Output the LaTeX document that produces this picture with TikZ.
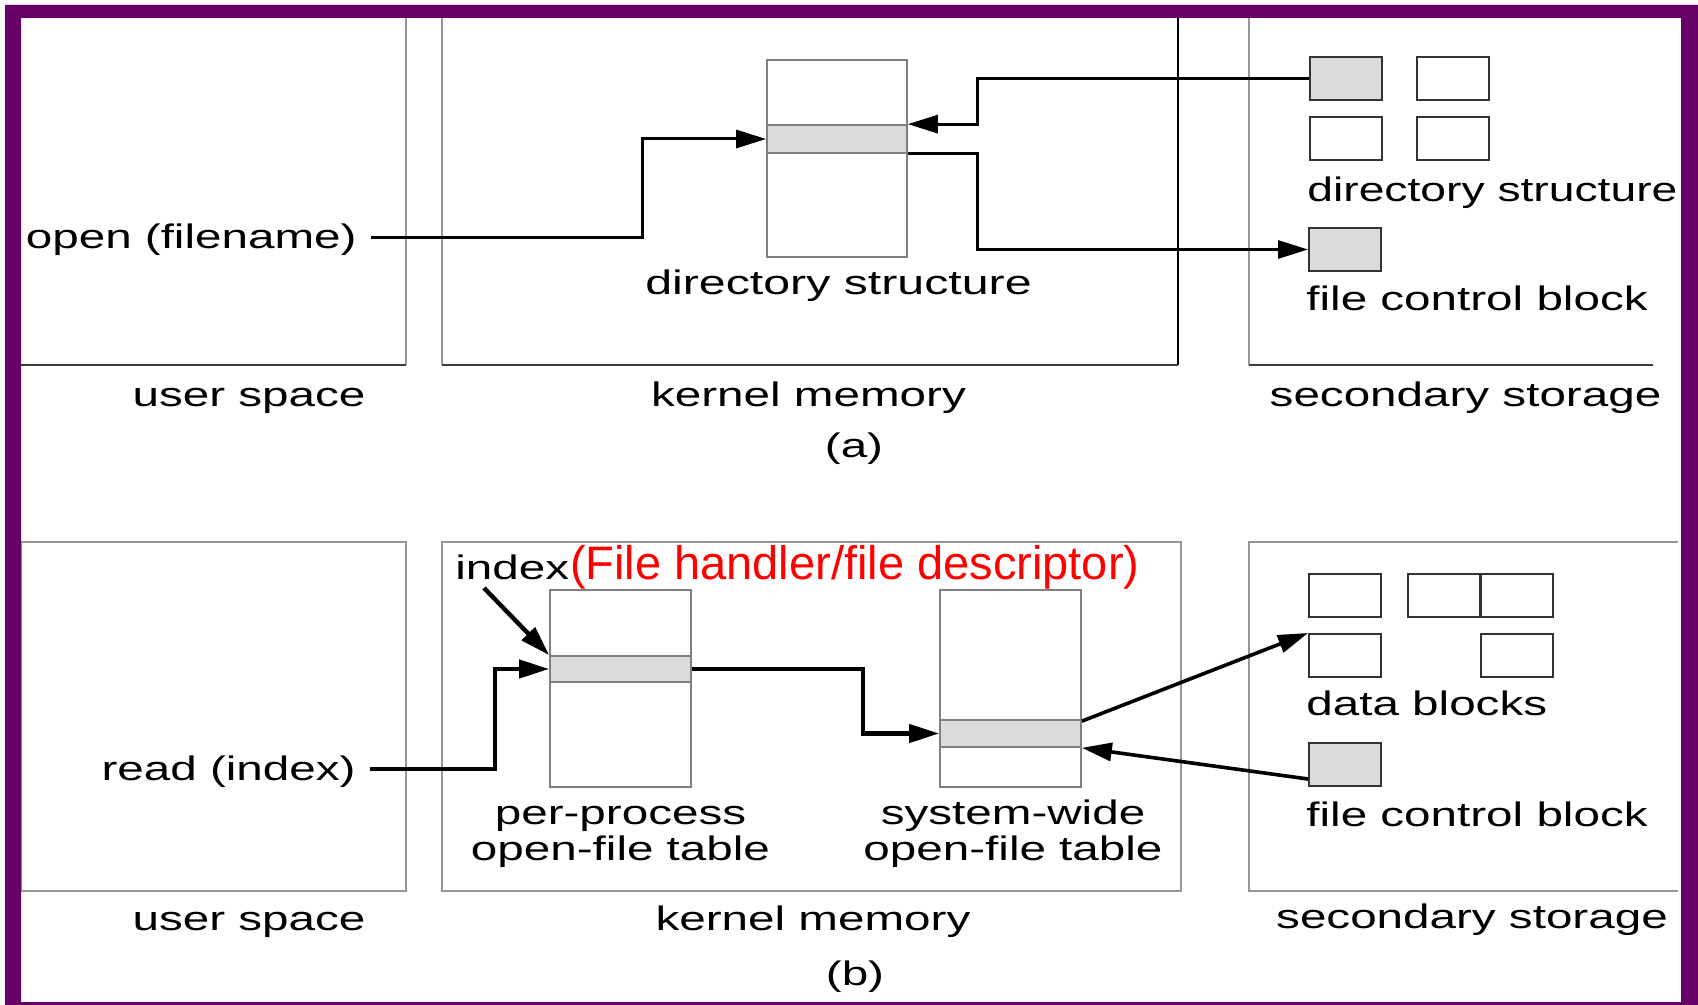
\documentclass[tikz,border=0pt]{standalone}
\usepackage{fontspec}
\setmainfont{Liberation Sans}
\newfontfamily\widefont[FakeStretch=1.4]{Liberation Sans}
\newfontfamily\widerfont[FakeStretch=1.42]{Liberation Sans}
\newfontfamily\tightfont[FakeStretch=1.36]{Liberation Sans}
\usetikzlibrary{arrows.meta,calc}

\definecolor{framepurple}{RGB}{102,0,102}
\definecolor{bandfill}{RGB}{220,218,221}
\definecolor{tableline}{RGB}{128,128,128}
\definecolor{arealine}{RGB}{150,150,150}
\definecolor{areadark}{RGB}{60,60,60}

\tikzset{
  lbl/.style={font=\widefont\fontsize{17pt}{20pt}\selectfont, inner sep=0pt, text=black},
  lblwide/.style={lbl, font=\widerfont\fontsize{17pt}{20pt}\selectfont},
  lbltight/.style={lbl, font=\tightfont\fontsize{17pt}{20pt}\selectfont},
  note/.style={font=\fontsize{23.5pt}{28pt}\selectfont, inner sep=0pt, text=red},
  tbl/.style={draw=tableline, line width=0.85pt, fill=white, minimum width=70.5pt,
              minimum height=98.5pt, inner sep=0pt},
  band/.style={draw=tableline, line width=0.85pt, fill=bandfill, minimum width=70.5pt, inner sep=0pt},
  blk/.style={draw=black!80, line width=1pt, minimum width=36pt, minimum height=21.5pt, inner sep=0pt},
  blkon/.style={blk, fill=bandfill},
  connA/.style={line width=1.5pt, -{Triangle[length=15pt,width=9pt]}},
  connB/.style={line width=2.2pt, -{Triangle[length=15pt,width=9pt]}},
  areaV/.style={draw=arealine, line width=0.8pt},
  areaH/.style={draw=areadark, line width=0.8pt},
}

\begin{document}
\begin{tikzpicture}[x=0.5pt,y=-0.5pt]
\useasboundingbox (0,0) rectangle (1698,1005);
\fill[white] (0,0) rectangle (1698,1005);

% ---------- (a) open(): memory areas ----------
\draw[areaV] (406,18) -- (406,365);
\draw[areaH] (21,365) -- (406,365);
\draw[areaV] (442,18) -- (442,365);
\draw[areaH] (442,365) -- (1178,365);
\draw[black, line width=0.9pt] (1178,18) -- (1178,365);
\draw[areaV] (1249,18) -- (1249,365);
\draw[areaH] (1249,365) -- (1653,365);

% ---------- (b) read(): memory areas ----------
\draw[areaV] (21,542) rectangle (406,891);
\draw[areaV] (442,542) rectangle (1181,891);
\draw[areaV] (1678,542) -- (1249,542) -- (1249,891) -- (1678,891);

% ---------- in-memory tables ----------
\node[tbl, minimum width=70pt] (dirA) at (837,158.5) {};
\node[band, minimum width=70pt, minimum height=14pt] (bandA) at (837,139) {};
\node[tbl] (ppt) at (620.5,688.5) {};
\node[band, minimum height=13pt] (bandP) at (620.5,669) {};
\node[tbl] (swt) at (1010.5,688.5) {};
\node[band, minimum height=13.5pt] (bandS) at (1010.5,733.5) {};

% ---------- disk blocks (a) ----------
\node[blkon] (dA1) at (1345.5,79) {};
\node[blk] (dA2) at (1452.5,79) {};
\node[blk] (dA3) at (1345.5,138.5) {};
\node[blk] (dA4) at (1452.5,138.5) {};
\node[blkon] (fcbA) at (1345,249.5) {};

% ---------- disk blocks (b) ----------
\node[blk] (db1) at (1345,595) {};
\node[blk] (db2) at (1443.5,595) {};
\node[blk] (db3) at (1516.5,595) {};
\node[blk] (db4) at (1345,655.5) {};
\node[blk] (db5) at (1516.5,655.5) {};
\node[blkon] (fcbB) at (1345,764.5) {};

% ---------- labels (a) ----------
\node[lbl, anchor=base] (usA) at (249,407) {user space};
\node[lbl, anchor=base] (kmA) at (808.5,407) {kernel memory};
\node[lbl, anchor=base] (ssA) at (1465.5,407) {secondary storage};
\node[lbl, anchor=base] (capA) at (854,458) {(a)};
\node[lblwide, anchor=base] (dsA) at (838.5,295) {directory structure};
\node[lbltight, anchor=base west] (dsS) at (1307,202) {directory structure};
\node[lbl, anchor=base west] (fcbAl) at (1306,311) {file control block};
\node[lbl, anchor=east] (open) at (357,240) {open (filename)};

% ---------- labels (b) ----------
\node[lbl, anchor=base] (usB) at (249,930) {user space};
\node[lbl, anchor=base] (kmB) at (813,930) {kernel memory};
\node[lbl, anchor=base] (ssB) at (1472,928) {secondary storage};
\node[lbl, anchor=base] (capB) at (855,985) {(b)};
\node[lbl, anchor=base west] (idx) at (455,580) {index};
\node[note, anchor=base west] (fhd) at (idx.base east) {(File handler/file descriptor)};
\node[lbl, anchor=base] (pp1) at (620.5,824) {per-process};
\node[lbl, anchor=base] (pp2) at (620.5,860) {open-file table};
\node[lbl, anchor=base] (sw1) at (1013,824) {system-wide};
\node[lbl, anchor=base] (sw2) at (1013,860) {open-file table};
\node[lbl, anchor=base west] (dbl) at (1306,715) {data blocks};
\node[lbl, anchor=base west] (fcbBl) at (1306,826) {file control block};
\node[lbl, anchor=east] (read) at (356,772) {read (index)};

% ---------- connectors (a) ----------
\draw[connA] ([xshift=7pt,yshift=1pt]open.east) -| ($(bandA.west)+(-124,0)$) -- (bandA.west);
\draw[connA] (dA1.west) -| ($(bandA.north east)+(70,0)$) -- (bandA.north east);
\draw[connA] (bandA.south east) -- ++(70,0) |- (fcbA.west);

% ---------- connectors (b) ----------
\draw[connB] ([xshift=7pt,yshift=1.5pt]read.east) -| ($(bandP.west)+(-54,0)$) -- (bandP.west);
\draw[connB] ($(idx.base west)+(29,8)$) -- (bandP.north west);
\draw[connB] (bandP.east) -| ($(bandS.west)+(-76,0)$) -- (bandS.west);
\draw[connB, line width=1.8pt] ($(bandS.north east)+(0,2)$) -- (db4.north west);
\draw[connB, line width=1.8pt] ($(fcbB.south west)+(0,-8)$) -- (bandS.south east);

% ---------- frame ----------
\fill[framepurple, even odd rule] (5,5) rectangle (1698,1005) (21,18) rectangle (1681,1002);
\end{tikzpicture}
\end{document}
